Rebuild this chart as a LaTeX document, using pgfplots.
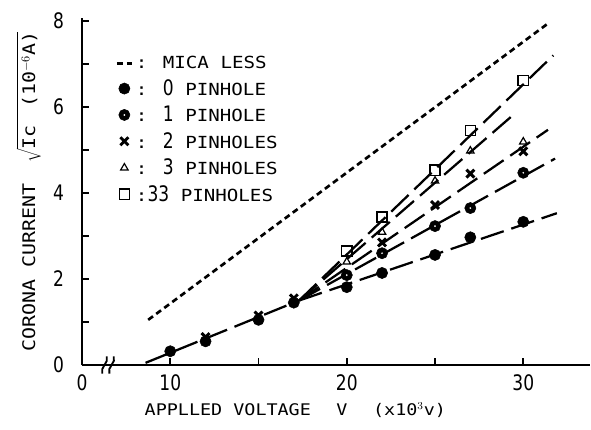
\documentclass[border=0pt]{standalone}
\usepackage{fontspec}
\usepackage{pgfplots}
\pgfplotsset{compat=1.18}
\usetikzlibrary{calc}
\setmainfont[FakeStretch=1.15]{DejaVu Sans Mono}
\newfontfamily\tickfont[FakeStretch=0.8]{DejaVu Sans}

% filled dot with a white centre (1 pinhole)
\pgfdeclareplotmark{dotc}{%
  \pgfpathcircle{\pgfpointorigin}{\pgfplotmarksize}%
  \pgfusepathqfillstroke
  \begin{pgfscope}
  \pgfsetfillcolor{white}%
  \pgfpathcircle{\pgfpointorigin}{0.17\pgfplotmarksize}%
  \pgfusepathqfill
  \end{pgfscope}}

\tikzset{
  fit/.style={black, line width=1.7pt, dash pattern=on 18pt off 6pt},
}

\begin{document}
\begin{tikzpicture}
\begin{axis}[
    name=ax,
    scale only axis,
    width=381pt, height=260.25pt,
    xmin=5, xmax=33.78, ymin=0, ymax=8.07,
    axis lines=left,
    axis line style={-, line width=2pt},
    tick align=inside,
    tick style={black, line width=1.2pt},
    major tick length=5pt,
    xtick={5,10,15,20,25,30}, xticklabels={0,10,,20,,30},
    ytick={0,1,...,8}, yticklabels={0,,2,,4,,6,,8},
    /pgf/number format/assume math mode=true,
    ticklabel style={font=\tickfont\fontsize{16}{18}\selectfont},
    yticklabel style={xshift=-10pt},
    xticklabel style={yshift=-4pt},
    xlabel={APPLLED VOLTAGE\hspace{1.6em}V\hspace{1.6em}(x10$^{3}$v)},
    every axis x label/.style={at={(rel axis cs:0.42,0)}, anchor=center, yshift=-34pt,
      font=\fontsize{12}{14}\selectfont},
    ylabel={CORONA CURRENT\hspace{1.2em}$\sqrt{\mbox{Ic\hspace{1em}(10$^{-6}$A)}}$},
    every axis y label/.style={at={(rel axis cs:0,0.5)}, xshift=-40pt, rotate=90, anchor=center,
      font=\fontsize{13}{15}\selectfont},
    legend style={draw=none, fill=none, inner sep=0pt,
      at={(axis cs:6.88,7.24)}, anchor=north west,
      font=\fontsize{12.5}{14}\selectfont, row sep=2.5pt,
      cells={anchor=west}},
    legend image code/.code={\draw[mark repeat=2,mark phase=2,#1]
      plot coordinates {(0cm,0cm) (0.2cm,0cm) (0.4cm,0cm)};},
    clip=false,
]
% fitted lines
\addplot[fit, forget plot] coordinates {(8.6,0.05) (17.3,1.5)};
\addplot[fit, forget plot] coordinates {(17.3,1.5) (31.9,3.53)};
\addplot[fit, forget plot] coordinates {(17.3,1.5) (31.8,4.8)};
\addplot[fit, forget plot] coordinates {(17.3,1.5) (31.4,5.47)};
\addplot[fit, forget plot] coordinates {(17.3,1.5) (29.3,5.77)};
\addplot[fit, forget plot] coordinates {(17.3,1.5) (31.7,7.2)};

% mica less
\addplot[black, line width=2pt, dash pattern=on 4.5pt off 3pt]
  coordinates {(8.75,1.05) (31.36,7.93)};
\addlegendentry{: MICA LESS}

% 0 pinhole
\addplot[only marks, mark=*, mark size=4.2pt, black]
  coordinates {(10,0.32) (12,0.55) (15,1.05) (17,1.45) (20,1.81) (22,2.14) (25,2.56) (27,2.97) (30,3.33)};
\addlegendentry{: {\tickfont\fontsize{16}{16}\selectfont 0} PINHOLE}

% 1 pinhole
\addplot[only marks, mark=dotc, mark size=4.2pt, black]
  coordinates {(20,2.09) (22,2.6) (25,3.23) (27,3.65) (30,4.47)};
\addlegendentry{: {\tickfont\fontsize{16}{16}\selectfont 1} PINHOLE}

% 2 pinholes
\addplot[only marks, mark=x, mark size=4.2pt, line width=2.2pt, black]
  coordinates {(12,0.65) (15,1.15) (17,1.55) (22,2.85) (25,3.72) (27,4.45) (30,4.97)};
\addlegendentry{: {\tickfont\fontsize{16}{16}\selectfont 2} PINHOLES}

% 3 pinholes
\addplot[only marks, mark=triangle, mark size=3.2pt, line width=0.9pt, black, mark options={fill=white}]
  coordinates {(20,2.40) (22,3.09) (25,4.28) (27,4.98) (30,5.19)};
\addlegendentry{: {\tickfont\fontsize{16}{16}\selectfont 3} PINHOLES}

% 33 pinholes
\addplot[only marks, mark=square, mark size=3.8pt, line width=1.1pt, black, mark options={fill=white}]
  coordinates {(20,2.65) (22,3.44) (25,4.53) (27,5.45) (30,6.62)};
\addlegendentry{:{\tickfont\fontsize{16}{16}\selectfont 33} PINHOLES}

% axis break marks
\draw[line width=1.4pt] (axis cs:6.15,-0.2) .. controls (axis cs:6.0,-0.05) and (axis cs:6.55,0.05) .. (axis cs:6.4,0.2);
\draw[line width=1.4pt] (axis cs:6.55,-0.2) .. controls (axis cs:6.4,-0.05) and (axis cs:6.95,0.05) .. (axis cs:6.8,0.2);
\end{axis}
\pgfresetboundingbox
\path[use as bounding box] ($(ax.south west)+(-61.5pt,-48pt)$) rectangle ($(ax.north east)+(0.75pt,13.5pt)$);
\end{tikzpicture}
\end{document}
